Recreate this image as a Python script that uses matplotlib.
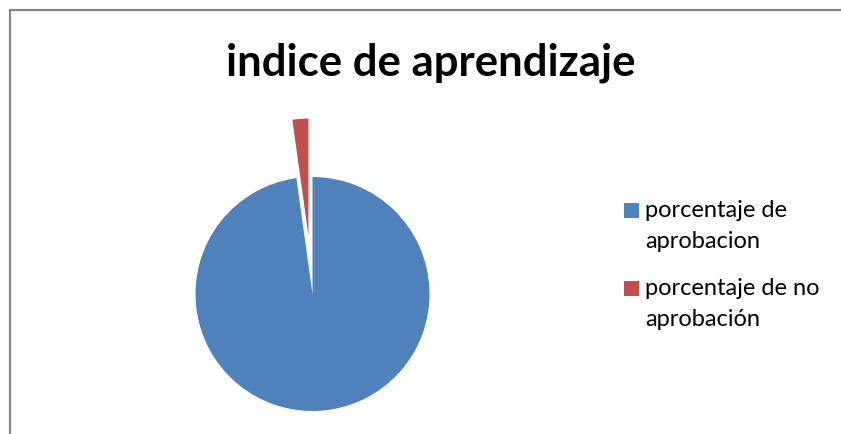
import matplotlib
matplotlib.use('Agg')
import matplotlib.pyplot as plt
from matplotlib.patches import Rectangle

# ─── data ─────────────────────────────────────────────────────────────────────
labels = ["porcentaje de\naprobacion", "porcentaje de no\naprobación"]
values = [97.8, 2.2]
colors = ["#4F81BD", "#C0504D"]
explode = [0, 0.5]
title = "indice de aprendizaje"
# ──────────────────────────────────────────────────────────────────────────────

W, H = 841, 434
plt.rcParams['font.family'] = ['Lato', 'DejaVu Sans']

fig = plt.figure(figsize=(W / 100, H / 100), dpi=100)

# chart frame (runs off the right and bottom edges)
fig.add_artist(Rectangle((10 / W, -0.1), 1.2, 1.1 - 10.5 / H, transform=fig.transFigure,
                         fill=False, edgecolor="#878787", linewidth=1.6))

# pie centred at (312.5, 294) px, radius ~117 px
r, cx, cy, lim = 117, 312.5, H - 294, 1.7
size = 2 * lim * r
ax = fig.add_axes([(cx - size / 2) / W, (cy - size / 2) / H, size / W, size / H])
ax.pie(values, colors=colors, explode=explode, startangle=90, counterclock=False,
       wedgeprops={"linewidth": 0})
ax.set_xlim(-lim, lim)
ax.set_ylim(-lim, lim)
ax.set_aspect('auto')
ax.axis('off')

fig.text(431 / W, 1 - 63 / H, title, ha="center", va="center",
         fontsize=31.5, fontweight="bold", color="black")

# legend: square aligned with first text line
legend_y = [210, 288]
for lab, col, y in zip(labels, colors, legend_y):
    fig.add_artist(Rectangle((624 / W, 1 - (y + 7.5) / H), 15 / W, 15 / H,
                             transform=fig.transFigure, facecolor=col, edgecolor="none"))
    fig.text(645 / W, 1 - (y - 10) / H, lab, ha="left", va="top",
             fontsize=17, linespacing=1.58, color="black")

plt.savefig("out.png", dpi=100)
plt.close()
